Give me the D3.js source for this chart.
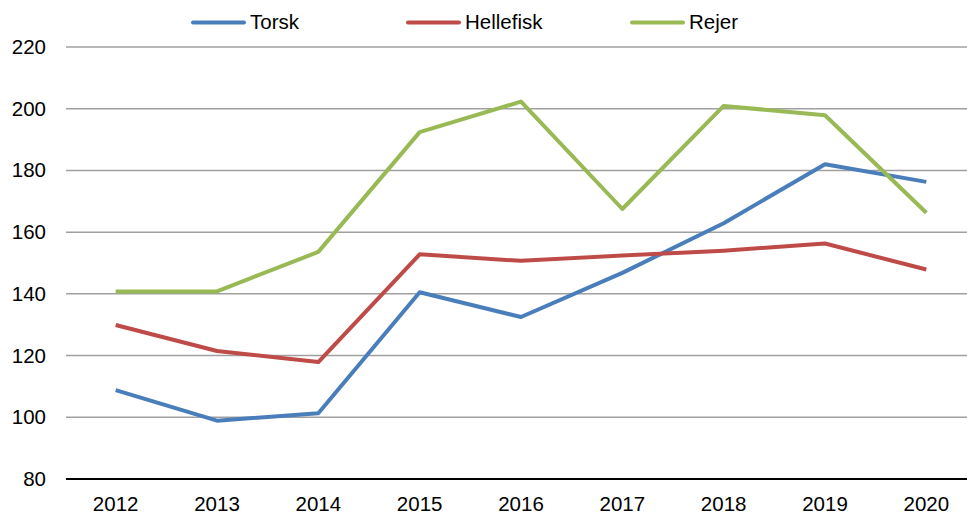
<!DOCTYPE html>
<meta charset="utf-8">
<script src="https://d3js.org/d3.v7.min.js"></script>
<style>
  body { margin: 0; background: #fff; }
  text { font-family: "Liberation Sans", Arial, sans-serif; }
</style>
<div id="chart"></div>
<script>

// data
var years = ["2012", "2013", "2014", "2015", "2016", "2017", "2018", "2019", "2020"];
var torsk = [108.8, 98.9, 101.3, 140.5, 132.5, 146.8, 162.9, 182.0, 176.3];
var hellefisk = [129.9, 121.5, 117.9, 152.8, 150.7, 152.4, 154.0, 156.3, 147.9];
var rejer = [140.8, 140.8, 153.6, 192.4, 202.3, 167.5, 200.9, 197.9, 166.3];
var yTicks = [80, 100, 120, 140, 160, 180, 200, 220];

var seriesNames = ["Torsk", "Hellefisk", "Rejer"];
var seriesValues = [torsk, hellefisk, rejer];
var colors = ["#4a7ebb", "#be4b48", "#98b954"];

var width = 967, height = 514;

var svg = d3.select("#chart")
  .append("svg")
    .attr("width", width)
    .attr("height", height);

// scales
var x = d3.scaleBand()
  .domain(years)
  .range([65, 977]);

var y = d3.scaleLinear()
  .domain([80, 220])
  .range([479, 47]);

// gridlines
svg.append("g")
  .selectAll("line")
  .data(yTicks.filter(function(d) { return d > 80; }))
  .enter()
  .append("line")
    .attr("x1", 66)
    .attr("x2", width)
    .attr("y1", function(d) { return y(d); })
    .attr("y2", function(d) { return y(d); })
    .attr("stroke", "#a0a0a0")
    .attr("stroke-width", 1.5);

// y axis labels
var yAxis = svg.append("g")
  .attr("transform", "translate(66,0)")
  .call(d3.axisLeft(y).tickValues(yTicks).tickSize(0).tickPadding(20));
yAxis.select(".domain").remove();
yAxis.selectAll("text")
  .style("font-size", "20.5px")
  .style("font-family", "'Liberation Sans', Arial, sans-serif")
  .attr("fill", "#000");

// x axis labels
var xAxis = svg.append("g")
  .attr("transform", "translate(0," + y(80) + ")")
  .call(d3.axisBottom(x).tickSize(0).tickPadding(17));
xAxis.select(".domain").remove();
xAxis.selectAll("text")
  .style("font-size", "20.5px")
  .style("font-family", "'Liberation Sans', Arial, sans-serif")
  .attr("fill", "#000");

// baseline
svg.append("line")
  .attr("x1", 66)
  .attr("x2", width)
  .attr("y1", y(80))
  .attr("y2", y(80))
  .attr("stroke", "#000")
  .attr("stroke-width", 2);

// lines
var line = d3.line()
  .x(function(d, i) { return x(years[i]) + x.bandwidth() / 2; })
  .y(function(d) { return y(d); });

seriesValues.forEach(function(vals, i) {
  svg.append("path")
    .datum(vals)
    .attr("d", line)
    .attr("fill", "none")
    .attr("stroke", colors[i])
    .attr("stroke-width", 4)
    .attr("stroke-linejoin", "round");
});

// legend
var legendX = [193, 408, 632];
var legend = svg.append("g");
seriesNames.forEach(function(name, i) {
  legend.append("line")
    .attr("x1", legendX[i])
    .attr("x2", legendX[i] + 51)
    .attr("y1", 22.5)
    .attr("y2", 22.5)
    .attr("stroke", colors[i])
    .attr("stroke-width", 4)
    .attr("stroke-linecap", "round");
  legend.append("text")
    .attr("x", legendX[i] + 57)
    .attr("y", 29)
    .style("font-size", "20.5px")
    .text(name);
});

</script>
